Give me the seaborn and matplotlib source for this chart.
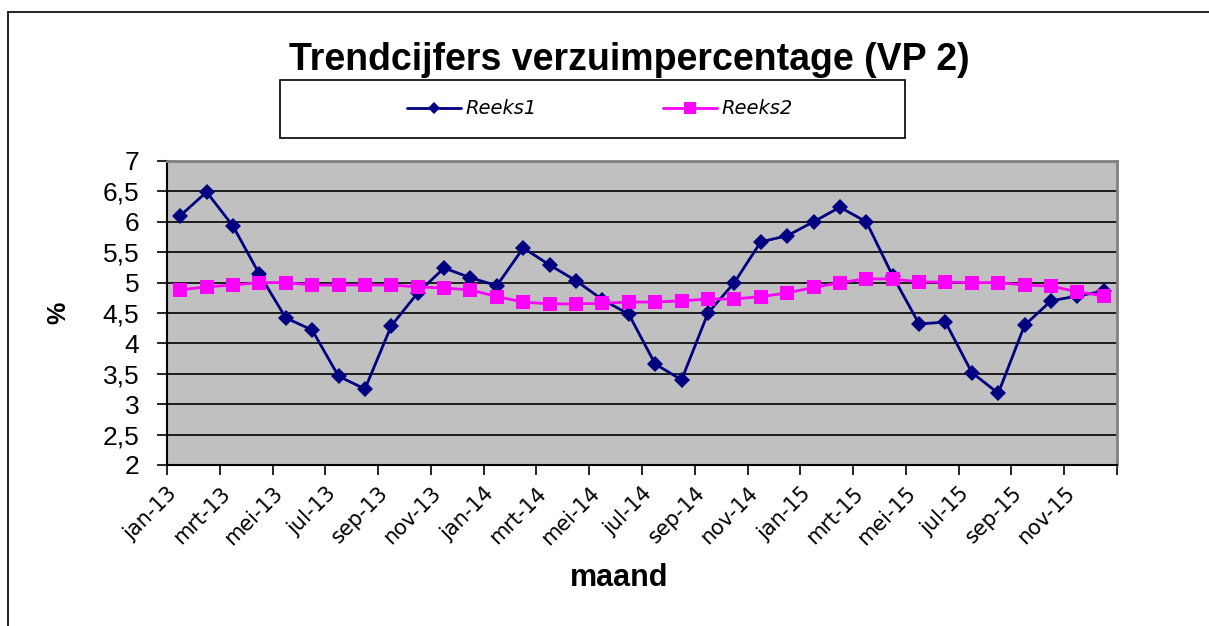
import matplotlib
matplotlib.use("Agg")
import matplotlib.pyplot as plt
import matplotlib.transforms as mtransforms
from matplotlib.lines import Line2D
from matplotlib.patches import Rectangle
import seaborn as sns
import pandas as pd
import numpy as np

months = ["jan-13", "feb-13", "mrt-13", "apr-13", "mei-13", "jun-13", "jul-13", "aug-13", "sep-13", "okt-13", "nov-13", "dec-13",
          "jan-14", "feb-14", "mrt-14", "apr-14", "mei-14", "jun-14", "jul-14", "aug-14", "sep-14", "okt-14", "nov-14", "dec-14",
          "jan-15", "feb-15", "mrt-15", "apr-15", "mei-15", "jun-15", "jul-15", "aug-15", "sep-15", "okt-15", "nov-15", "dec-15"]

reeks1 = [6.10, 6.49, 5.93, 5.14, 4.42, 4.22, 3.46, 3.25, 4.29, 4.83, 5.24, 5.08,
          4.95, 5.57, 5.29, 5.03, 4.72, 4.48, 3.66, 3.40, 4.50, 5.00, 5.67, 5.77,
          6.00, 6.24, 6.00, 5.11, 4.32, 4.35, 3.52, 3.18, 4.30, 4.70, 4.78, 4.86]

reeks2 = [4.88, 4.93, 4.96, 5.00, 5.00, 4.96, 4.96, 4.96, 4.96, 4.93, 4.91, 4.88,
          4.77, 4.68, 4.65, 4.65, 4.66, 4.68, 4.68, 4.70, 4.73, 4.73, 4.77, 4.83,
          4.92, 5.00, 5.06, 5.06, 5.01, 5.01, 5.00, 5.00, 4.96, 4.94, 4.85, 4.78]

series_names = ["Reeks1", "Reeks2"]
title = "Trendcijfers verzuimpercentage (VP 2)"
y_ticks = [2, 2.5, 3, 3.5, 4, 4.5, 5, 5.5, 6, 6.5, 7]
y_labels = ["2", "2,5", "3", "3,5", "4", "4,5", "5", "5,5", "6", "6,5", "7"]

n = len(months)
df = pd.DataFrame({
    "pos": list(np.arange(n) + 0.5) * 2,
    "value": reeks1 + reeks2,
    "reeks": [series_names[0]] * n + [series_names[1]] * n,
})

sns.set_style("white")
plt.rcParams["font.family"] = ["Liberation Sans", "DejaVu Sans"]
plt.rcParams["text.color"] = "black"
plt.rcParams["xtick.color"] = "black"
plt.rcParams["ytick.color"] = "black"

W, H = 1209, 626
fig = plt.figure(figsize=(W / 100, H / 100), dpi=100)
ax = fig.add_axes([167 / W, 1 - 465 / H, (1117 - 167) / W, (465 - 161) / H])
ax.set_facecolor("#C0C0C0")

palette = {"Reeks1": "#000080", "Reeks2": "#FF00FF"}
markers = {"Reeks1": "D", "Reeks2": "s"}
sizes = {"Reeks1": 8, "Reeks2": 10}
sns.lineplot(data=df, x="pos", y="value", hue="reeks", style="reeks", palette=palette,
             markers=markers, dashes=False, ax=ax, legend=False, linewidth=2, zorder=3)
for line, name in zip(ax.lines, series_names):
    line.set_markersize(sizes[name])
    line.set_markeredgewidth(0)

ax.set_xlim(0, n)
ax.set_ylim(2, 7)
ax.set_yticks(y_ticks)
ax.set_yticklabels(y_labels, fontsize=19)
ax.yaxis.grid(True, color="black", linewidth=1.2)
ax.set_axisbelow(True)
ax.set_xticks(np.arange(0, n + 1, 2))
xl = [months[i] if i < n else "" for i in range(0, n + 1, 2)]
ax.set_xticklabels(xl, rotation=45, ha="right", rotation_mode="anchor", fontsize=15,
                   family=["DejaVu Sans"])
offset = mtransforms.ScaledTranslation(14 / 100, 0, fig.dpi_scale_trans)
for lab in ax.get_xticklabels():
    lab.set_transform(lab.get_transform() + offset)
ax.tick_params(axis="both", direction="out", length=7, width=1.2, color="black", bottom=True, left=True)
ax.tick_params(axis="x", pad=6)
ax.tick_params(axis="y", pad=13)

for s in ["left", "bottom"]:
    ax.spines[s].set_color("black")
    ax.spines[s].set_linewidth(1.5)
for s in ["top", "right"]:
    ax.spines[s].set_color("#808080")
    ax.spines[s].set_linewidth(2)

ax.set_xlabel("")
ax.set_ylabel("")
fig.text(619 / W, 1 - 578 / H, "maand", ha="center", va="center", fontsize=22, fontweight="bold")
fig.text(58 / W, 1 - 313 / H, "%", ha="center", va="center", fontsize=18, fontweight="bold", rotation=90)

fig.text(629 / W, 1 - 60 / H, title, ha="center", va="center", fontsize=27, fontweight="bold")

# legend box
fig.add_artist(Rectangle((280 / W, 1 - 138 / H), (905 - 280) / W, (138 - 80) / H, transform=fig.transFigure,
                         facecolor="white", edgecolor="black", linewidth=1.2))
handles = [Line2D([], [], color=palette[s], marker=markers[s], linewidth=2,
                  markersize=6 if s == "Reeks1" else 9, markeredgewidth=0) for s in series_names]
leg = fig.legend(handles, series_names, loc="center left", ncol=2,
                 bbox_to_anchor=(407 / W, 1 - 109 / H), borderaxespad=0, borderpad=0,
                 frameon=False,
                 prop={"family": "DejaVu Sans", "style": "italic", "size": 14},
                 handlelength=2.8, columnspacing=6.5, handletextpad=0.2)

# outer chart border (left and top)
fig.add_artist(Line2D([8 / W, 8 / W], [0, 1 - 12 / H], color="black", linewidth=1.2, transform=fig.transFigure))
fig.add_artist(Line2D([8 / W, 1], [1 - 12 / H, 1 - 12 / H], color="black", linewidth=1.2, transform=fig.transFigure))

fig.savefig("out.png", dpi=100)
